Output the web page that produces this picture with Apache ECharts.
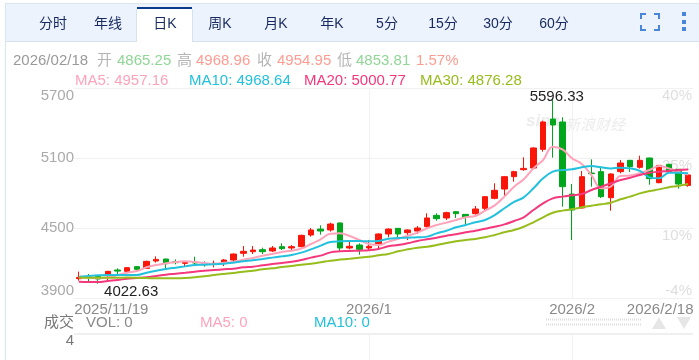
<!DOCTYPE html>
<html>
<head>
<meta charset="utf-8">
<title>K</title>
<script src="https://cdn.jsdelivr.net/npm/echarts@6/dist/echarts.min.js"></script>
<style>
	html, body { margin: 0; padding: 0; background: #fff; }
	#main { width: 699px; height: 360px; }
</style>
</head>
<body>
<div id="main"></div>
<script>
	// [open, close, low, high]
	var candles = [
		[4065.7,4077,4048.6,4125.7],[4080,4074,4040,4106],[4086,4063,4022.63,4090],[4100,4128.6,4040,4132],
		[4140,4131,4105.7,4154],[4128.6,4160,4123,4165.7],[4168.6,4145.7,4131,4174],[4154,4214,4148.6,4220],
		[4217,4231,4203,4257],[4234,4194,4157,4237],[4211,4203,4188.6,4231],[4197,4203,4168.6,4205.7],
		[4205.7,4200,4191,4254],[4191,4185.7,4168.6,4214],[4191,4197,4163,4220],[4205.7,4225.7,4174,4234],
		[4225.7,4277,4203,4282],[4283,4300,4254,4345.7],[4297,4311,4277,4345.7],[4314,4297,4277,4331],
		[4303,4328.6,4294,4345.7],[4340,4323,4311,4368.6],[4328.6,4340,4305.7,4354],[4340,4437,4334,4443],
		[4440,4483,4425.7,4500],[4491,4474,4443,4523],[4483,4534,4468.6,4545.7],[4543,4328.6,4300,4548],
		[4328.6,4343,4317,4397],[4354,4317,4271,4368.6],[4328.6,4343,4305.7,4397],[4360,4448.6,4325.7,4454],
		[4448.6,4491,4420,4497],[4497,4448.6,4420,4500],[4460,4483,4397,4488],[4474,4500,4448.6,4517],
		[4511,4586,4506,4626],[4608.6,4580,4563,4626],[4586,4631.5,4568.6,4640],[4640,4623,4586,4643],
		[4617,4591.5,4534,4620],[4623,4663,4614,4688.6],[4668.6,4768.6,4654,4771],[4754,4823,4746,4883],
		[4834,4940,4768.6,4943],[4940,4983,4897,4991],[5000,5011,4991,5106],[5014,5186,5003,5191],
		[5174,5408.6,5154,5420],[5434,5383,5103,5596.33],[5408.6,4854,4683,5449],[4791,4654,4397,4877],
		[4671.5,4940,4666,4989],[4971,4966,4854,5088],[4983,4768.6,4757,5017],[4760,4963,4648.6,4968],
		[4983,5057,4969,5083],[5080,5026,4980,5083],[5020,5080,5009,5120],[5100,4923,4871.5,5103],
		[4888.6,5037,4883,5040],[5046,4983,4980,5049],[5003,4877,4837,5006],[4865.25,4954.95,4853.81,4968.96]
	];
	var ma5 = [4077,4074,4068.6,4077,4097,4117,4131,4163,4183,4197,4208.6,4214,4208.6,4200,4191,4203,
		4208.6,4228.6,4243,4263,4277,4294,4305.7,4323,4363,4403,4451,4454,4431,4397,4363,4354,
		4383,4406,4434,4460,4497,4526,4546,4569,4591.5,4603,4649,4694,4769,4854,4917,5011,
		5083,5197,5174,5097,5049,4954,4840,4854,4946,4949,4969,4997,5031,5011,4983,4957.16];
	var ma10 = [4083,4088.6,4094,4097,4097,4097,4097,4117,4134,4148.6,4160,4171,4183,4186,4188.6,4194,
		4203,4214,4223,4234,4246,4257,4268.6,4288.6,4317,4348.6,4380,4386,4388.6,4388.6,4386,4388.6,
		4408.6,4414,4417,4420,4426,4454,4477,4506,4526,4549,4569,4611,4669,4723,4763,4840,
		4926,4983,4997,5003,5020,5031,5020,5011,5017,5011,4989,4934,4926,4974,4974,4968.64];
	var ma20 = [4040,4037,4037,4046,4054,4066,4071,4077,4088.6,4100,4108.6,4117,4126,4134,4140,4146,
		4151,4163,4168.6,4180,4191,4200,4211,4226,4246,4263,4291,4300,4303,4306,4308.6,4320,
		4343,4354,4369,4389,4403,4417,4434,4446,4463,4477,4494,4511,4531,4560,4591.5,4654,
		4711,4754,4769,4780,4791,4826,4854,4883,4911,4931,4954,4974,4983,4989,4997,5000.77];
	var ma30 = [4075,4074,4073,4074,4074,4075,4074,4071,4068.6,4068.6,4068.6,4071,4077,4086,4097,4106,
		4114,4126,4134,4146,4154,4166,4174,4186,4194,4206,4220,4229,4237,4246,4254,4266,
		4277,4300,4317,4331,4340,4354,4371,4386,4397,4406,4420,4440,4463,4483,4511,4549,
		4591.5,4631,4649,4660,4677,4691,4703,4717,4746,4769,4797,4817,4831,4849,4860,4876.28];
	var volumes = [0,0,0,0,0,0,0,0,0,0,0,0,0,0,0,0,0,0,0,0,0,0,0,0,0,0,0,0,0,0,0,0,
		0,0,0,0,0,0,0,0,0,0,0,0,0,0,0,0,0,0,0,0,0,0,0,0,0,0,0,0,0,0,0,0];
	var dateLabels = {0: '2025/11/19', 30: '2026/1', 51: '2026/2', 63: '2026/2/18'};
	var priceTicks = [3900, 4500, 5100, 5700];
	var percentTicks = ['-4%', '10%', '25%', '40%'];
	var tabs = [['分时', 53], ['年线', 108], ['日K', 165], ['周K', 220], ['月K', 276], ['年K', 332],
		['5分', 387], ['15分', 443], ['30分', 498], ['60分', 554]];

	var categories = candles.map(function (d, i) { return i; });
	var latin = '"Liberation Sans", Arial, sans-serif';
	var cjk = '"Liberation Sans", "Noto Sans CJK SC", sans-serif';
	var gridColor = '#f1f1f1';

	function label(x, y, text, color, size, align) {
		return {
			type: 'text', x: x, y: y, silent: true,
			style: { text: text, fill: color, font: (size || 15) + 'px ' + cjk, align: align || 'left', verticalAlign: 'middle' }
		};
	}
	function box(x, y, w, h, color) {
		return { type: 'rect', silent: true, shape: { x: x, y: y, width: w, height: h }, style: { fill: color } };
	}

	var graphics = [
		box(5, 3, 694, 1, '#dde6f0'),
		box(5, 3, 1, 357, '#d8e8f2'),
		box(6, 4, 693, 37, '#ecf3fd'),
		box(6, 41, 693, 1, '#d6e2f0'),
		box(137, 7, 55, 35, '#fff'),
		box(137, 7, 55, 2, '#0b3a8c'),
		box(136, 9, 1, 32, '#d6e2f0'),
		box(192, 9, 1, 32, '#d6e2f0'),
		box(74, 333, 619, 2, '#efefef')
	];
	tabs.forEach(function (t) {
		graphics.push(label(t[1], 24, t[0], '#17295f', 14, 'center'));
	});
	// 全屏图标
	[[640, 13, 6, 2], [640, 13, 2, 6], [654, 13, 6, 2], [658, 13, 2, 6],
		[640, 29, 6, 2], [640, 25, 2, 6], [654, 29, 6, 2], [658, 25, 2, 6],
		[682, 12, 4, 4], [682, 20, 4, 4], [682, 27, 4, 4]].forEach(function (r) {
		graphics.push(box(r[0], r[1], r[2], r[3], '#4a86d8'));
	});
	// 信息行
	var gray = '#9a9a9a', up = '#ff9c92', down = '#90d796';
	[[13, '2026/02/18', gray], [97, '开', '#b5b5b5'], [117, '4865.25', down], [177, '高', '#b5b5b5'], [196, '4968.96', up],
		[257, '收', '#b5b5b5'], [277, '4954.95', up], [337, '低', '#b5b5b5'], [356, '4853.81', down], [416, '1.57%', up]
	].forEach(function (r) {
		graphics.push(label(r[0], 60.5, r[1], r[2], 15));
	});
	graphics.push(label(75, 80.5, 'MA5: 4957.16', '#ffa3bb'));
	graphics.push(label(189, 80.5, 'MA10: 4968.64', '#22c1dd'));
	graphics.push(label(304, 80.5, 'MA20: 5000.77', '#f5377c'));
	graphics.push(label(420, 80.5, 'MA30: 4876.28', '#97bd1c'));
	// 成交量标题
	graphics.push(label(74, 323, '成交', '#777', 15, 'right'));
	graphics.push(label(86, 323, 'VOL: 0', '#8a8a8a'));
	graphics.push(label(200, 323, 'MA5: 0', '#ffa3bb'));
	graphics.push(label(314, 323, 'MA10: 0', '#22c1dd'));
	// 滑块
	graphics.push({ type: 'line', silent: true, shape: { x1: 546, y1: 319.5, x2: 642, y2: 319.5 }, style: { stroke: '#ddd', lineWidth: 2, lineDash: [1, 1] } });
	graphics.push({ type: 'line', silent: true, shape: { x1: 546, y1: 324.5, x2: 642, y2: 324.5 }, style: { stroke: '#ddd', lineWidth: 2, lineDash: [1, 1] } });
	graphics.push({ type: 'polygon', silent: true, shape: { points: [[652, 329], [666, 329], [659, 317]] }, style: { fill: '#e6e6e6' } });
	graphics.push({ type: 'polygon', silent: true, shape: { points: [[677, 317], [691, 317], [684, 329]] }, style: { fill: '#e6e6e6' } });
	// 水印
	graphics.push({
		type: 'text', x: 526, y: 121, silent: true,
		style: { text: 'sina', fill: '#ececec', font: 'italic bold 17px ' + latin, verticalAlign: 'middle' }
	});
	graphics.push({
		type: 'text', x: 565, y: 124, silent: true,
		style: { text: '新浪财经', fill: '#ececec', font: 'italic 15px "Noto Sans CJK SC"', verticalAlign: 'middle' }
	});

	function maSeries(name, data, color) {
		return {
			name: name, type: 'line', data: data, xAxisIndex: 0, yAxisIndex: 0,
			showSymbol: false, smooth: 0.4, silent: true,
			lineStyle: { color: color, width: 2 }, itemStyle: { color: color }, z: 3
		};
	}
	function markLabel(index, value, offset) {
		return {
			coord: [index, value], value: value, symbol: 'circle', symbolSize: 1,
			itemStyle: { color: 'rgba(0,0,0,0)', borderWidth: 0 },
			label: { show: true, formatter: String(value), position: 'inside', offset: offset, color: '#222', fontSize: 15, fontFamily: latin }
		};
	}

	var option = {
		animation: false,
		backgroundColor: '#fff',
		graphic: graphics,
		grid: [
			{ left: 74, right: 6, top: 88, height: 210 },
			{ left: 74, right: 6, top: 333, height: 27 }
		],
		xAxis: [{
			type: 'category', gridIndex: 0, data: categories,
			axisLine: { show: true, lineStyle: { color: gridColor } },
			axisTick: { show: false },
			splitLine: {
				show: true, alignWithLabel: true,
				interval: function (i) { return i === 30 || i === 51; },
				lineStyle: { color: gridColor }
			},
			axisLabel: {
				show: true, margin: 4, color: '#8a8a8a', fontSize: 15, fontFamily: latin,
				interval: function (i) { return dateLabels[i] !== undefined; },
				formatter: function (v) {
					if (+v === 0) return '{first|' + dateLabels[0] + '}';
					if (+v === 63) return '{last|' + dateLabels[63] + '}';
					return dateLabels[v] || '';
				},
				rich: {
					first: { padding: [0, 0, 0, 65], color: '#8a8a8a', fontSize: 15, fontFamily: latin },
					last: { padding: [0, 56, 0, 0], color: '#8a8a8a', fontSize: 15, fontFamily: latin }
				}
			}
		}, {
			type: 'category', gridIndex: 1, data: categories,
			axisLine: { show: false },
			axisTick: { show: false }, axisLabel: { show: false },
			splitLine: {
				show: true, alignWithLabel: true,
				interval: function (i) { return i === 30 || i === 51; },
				lineStyle: { color: gridColor }
			}
		}],
		yAxis: [{
			type: 'value', gridIndex: 0, position: 'left', min: 3900, max: 5700, interval: 600,
			axisLine: { show: false }, axisTick: { show: false },
			splitLine: { show: true, lineStyle: { color: gridColor } },
			axisLabel: {
				margin: 0, color: '#aaa', fontSize: 15, fontFamily: latin,
				verticalAlignMinLabel: 'bottom', verticalAlignMaxLabel: 'top',
				formatter: function (v) { return priceTicks[priceTicks.indexOf(v)]; }
			}
		}, {
			type: 'value', gridIndex: 0, position: 'right', min: 3900, max: 5700, interval: 600,
			axisLine: { show: false }, axisTick: { show: false }, splitLine: { show: false },
			axisLabel: {
				inside: true, margin: 1, color: '#dedede', fontSize: 15, fontFamily: latin,
				verticalAlign: 'top', verticalAlignMinLabel: 'bottom', verticalAlignMaxLabel: 'top',
				formatter: function (v) { return percentTicks[priceTicks.indexOf(v)]; }
			}
		}, {
			type: 'value', gridIndex: 1, position: 'left', min: 0, max: 4, interval: 4,
			axisLine: { show: false }, axisTick: { show: false }, splitLine: { show: false },
			axisLabel: {
				margin: 0, color: '#777', fontSize: 15, fontFamily: latin,
				verticalAlignMaxLabel: 'top',
				formatter: function (v) { return v === 4 ? '4' : ''; }
			}
		}],
		series: [{
			type: 'candlestick', data: candles, xAxisIndex: 0, yAxisIndex: 0,
			barWidth: 6, silent: true, z: 2,
			itemStyle: { color: '#fb1509', color0: '#00a71c', borderColor: '#fb1509', borderColor0: '#00a71c', borderWidth: 1 },
			markPoint: {
				silent: true, animation: false,
				data: [markLabel(49, 5596.33, [4, -3]), markLabel(2, 4022.63, [33, 8])]
			}
		},
			maSeries('MA5', ma5, '#ffa3bb'),
			maSeries('MA10', ma10, '#22c1dd'),
			maSeries('MA20', ma20, '#f5377c'),
			maSeries('MA30', ma30, '#97bd1c'),
			{ type: 'bar', data: volumes, xAxisIndex: 1, yAxisIndex: 2, silent: true, itemStyle: { color: '#fb1509' } }
		]
	};

	var myChart = echarts.init(document.getElementById('main'));
	myChart.setOption(option);
</script>
</body>
</html>
